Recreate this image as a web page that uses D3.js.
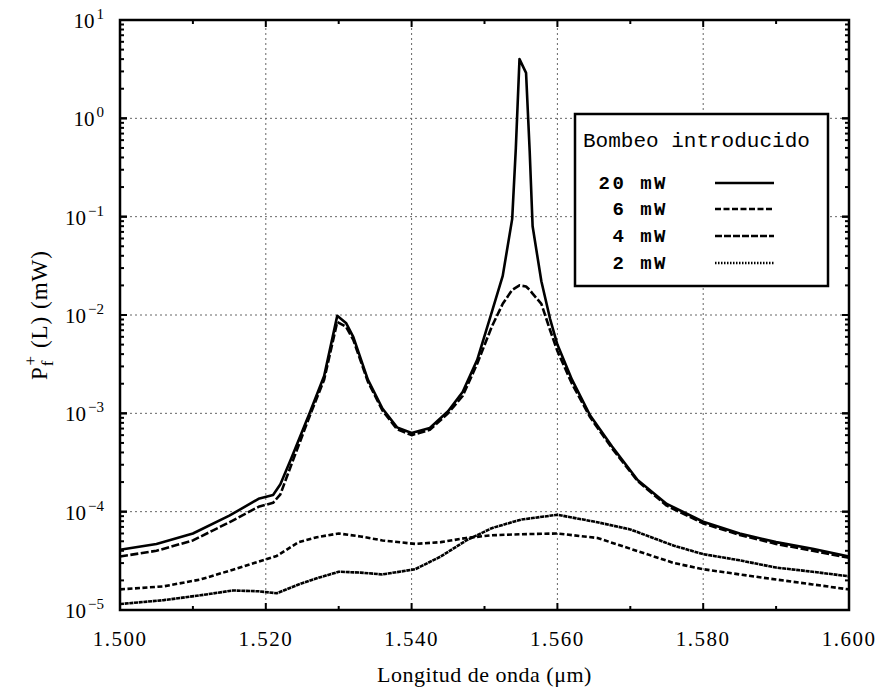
<!DOCTYPE html>
<html>
<head>
<meta charset="utf-8">
<script src="https://cdn.jsdelivr.net/npm/d3@7"></script>
<style>
  body { margin: 0; background: #fff; }
</style>
</head>
<body>
<div id="chart"></div>
<script>
/* Pf+(L) vs wavelength, four pump powers (log scale) */

// wavelength grid (um) for the two high-power curves
const lamHigh = [1.500, 1.505, 1.510, 1.515, 1.519, 1.521, 1.522, 1.5235, 1.526, 1.528,
                 1.5298, 1.531, 1.532, 1.534, 1.536, 1.538, 1.540, 1.5425, 1.545, 1.547,
                 1.549, 1.551, 1.5525, 1.5538, 1.5543, 1.5548, 1.5557, 1.5562, 1.5566, 1.5578,
                 1.559, 1.560, 1.562, 1.5645, 1.5675, 1.571, 1.575, 1.580, 1.585, 1.590,
                 1.595, 1.600];
const p20mW = [4.1e-5, 4.7e-5, 6.0e-5, 9.1e-5, 1.35e-4, 1.48e-4, 1.9e-4, 3.5e-4, 1.0e-3, 2.4e-3,
               9.8e-3, 8.3e-3, 6.0e-3, 2.2e-3, 1.12e-3, 7.2e-4, 6.3e-4, 7.1e-4, 1.05e-3, 1.65e-3,
               3.5e-3, 1.07e-2, 2.5e-2, 9.5e-2, 0.5, 4.0, 2.9, 0.46, 0.08, 0.022,
               9.1e-3, 5.0e-3, 2.2e-3, 9.5e-4, 4.6e-4, 2.1e-4, 1.2e-4, 7.9e-5, 6.0e-5, 4.9e-5,
               4.2e-5, 3.5e-5];
const p6mW = [3.5e-5, 4.0e-5, 5.1e-5, 7.8e-5, 1.12e-4, 1.23e-4, 1.5e-4, 3.0e-4, 9.3e-4, 2.2e-3,
              8.5e-3, 7.6e-3, 5.6e-3, 2.1e-3, 1.07e-3, 6.9e-4, 6.0e-4, 6.8e-4, 1.0e-3, 1.5e-3,
              3.2e-3, 7.6e-3, 1.3e-2, 1.8e-2, 1.9e-2, 2.0e-2, 1.95e-2, 1.8e-2, 1.65e-2, 1.3e-2,
              7.0e-3, 4.3e-3, 2.0e-3, 9.1e-4, 4.4e-4, 2.05e-4, 1.15e-4, 7.6e-5, 5.8e-5, 4.7e-5,
              4.0e-5, 3.4e-5];

// wavelength grid (um) for the two low-power curves
const lamLow = [1.500, 1.506, 1.511, 1.5155, 1.519, 1.5215, 1.5245, 1.527, 1.530, 1.533,
                1.536, 1.5405, 1.544, 1.5475, 1.551, 1.555, 1.560, 1.5655, 1.570, 1.576,
                1.580, 1.585, 1.590, 1.595, 1.600];
const p4mW = [1.62e-5, 1.74e-5, 2.04e-5, 2.57e-5, 3.1e-5, 3.55e-5, 4.9e-5, 5.5e-5, 6.0e-5, 5.6e-5,
              5.1e-5, 4.7e-5, 4.9e-5, 5.4e-5, 5.75e-5, 5.9e-5, 6.0e-5, 5.4e-5, 4.2e-5, 3.0e-5,
              2.6e-5, 2.3e-5, 2.04e-5, 1.82e-5, 1.62e-5];
const p2mW = [1.15e-5, 1.26e-5, 1.41e-5, 1.58e-5, 1.55e-5, 1.48e-5, 1.82e-5, 2.1e-5, 2.45e-5, 2.4e-5,
              2.3e-5, 2.6e-5, 3.5e-5, 5.1e-5, 6.8e-5, 8.3e-5, 9.3e-5, 7.8e-5, 6.6e-5, 4.5e-5,
              3.7e-5, 3.2e-5, 2.7e-5, 2.45e-5, 2.2e-5];

const seriesNames = ["20 mW", "6 mW", "4 mW", "2 mW"];
const xTicks = [1.50, 1.52, 1.54, 1.56, 1.58, 1.60];
const xMinorTicks = [1.51, 1.53, 1.55, 1.57, 1.59];
const yExponents = [-5, -4, -3, -2, -1, 0, 1];

const height = 689,
      width = 877,
      margin = ({ top: 20, right: 28, bottom: 79, left: 120 });

let svg = d3.select("#chart")
    .append("svg")
    .attr("width", width)
    .attr("height", height)
    .style("font-family", "'Liberation Serif', serif");

let x = d3.scaleLinear()
    .domain([1.5, 1.6])
    .range([margin.left, width - margin.right]);

let y = d3.scaleLog()
    .domain([1e-5, 10])
    .range([height - margin.bottom, margin.top]);

// dotted grid
let grid = svg.append("g")
    .attr("stroke", "#666")
    .attr("stroke-width", 1)
    .attr("stroke-dasharray", "2,3");

grid.selectAll(".vg")
    .data(xTicks.slice(1, -1))
    .join("line")
    .attr("x1", d => x(d)).attr("x2", d => x(d))
    .attr("y1", y(1e-5)).attr("y2", y(10));

grid.selectAll(".hg")
    .data(yExponents.slice(1, -1))
    .join("line")
    .attr("y1", d => y(Math.pow(10, d))).attr("y2", d => y(Math.pow(10, d)))
    .attr("x1", x(1.5)).attr("x2", x(1.6));

// curves
let series = [
    { name: seriesNames[0], lam: lamHigh, p: p20mW, dash: null },
    { name: seriesNames[1], lam: lamHigh, p: p6mW, dash: "8,2.5" },
    { name: seriesNames[2], lam: lamLow, p: p4mW, dash: "5,2.5" },
    { name: seriesNames[3], lam: lamLow, p: p2mW, dash: "4,0.7" }
];
let legendDash = [null, "6,2.5", "7,2", "1.5,1.5"];

let line = d3.line()
    .x(d => x(d[0]))
    .y(d => y(d[1]));

svg.append("g")
    .selectAll("path")
    .data(series)
    .join("path")
    .attr("d", s => line(s.lam.map((l, i) => [l, s.p[i]])))
    .attr("fill", "none")
    .attr("stroke", "#000")
    .attr("stroke-width", 2.6)
    .attr("stroke-linejoin", "round")
    .attr("stroke-dasharray", s => s.dash);

// ticks pointing inward on all four sides
let ticks = svg.append("g").attr("stroke", "#000").attr("stroke-width", 2);
let x0 = x(1.5), x1 = x(1.6), yb = y(1e-5), yt = y(10);

for (let t of xTicks.concat(xMinorTicks)) {
    let len = xTicks.includes(t) ? 7 : 4;
    ticks.append("line").attr("x1", x(t)).attr("x2", x(t)).attr("y1", yb).attr("y2", yb - len);
    ticks.append("line").attr("x1", x(t)).attr("x2", x(t)).attr("y1", yt).attr("y2", yt + len);
}
for (let e = -5; e <= 0; e++) {
    for (let m = 1; m <= 10; m++) {
        let v = m * Math.pow(10, e);
        let len = (m === 1 || m === 10) ? 7 : 4;
        ticks.append("line").attr("x1", x0).attr("x2", x0 + len).attr("y1", y(v)).attr("y2", y(v));
        ticks.append("line").attr("x1", x1).attr("x2", x1 - len).attr("y1", y(v)).attr("y2", y(v));
    }
}

// frame
svg.append("rect")
    .attr("x", x0).attr("y", yt)
    .attr("width", x1 - x0).attr("height", yb - yt)
    .attr("fill", "none")
    .attr("stroke", "#000")
    .attr("stroke-width", 2.5);

// x tick labels
svg.append("g")
    .selectAll("text")
    .data(xTicks)
    .join("text")
    .attr("x", d => x(d))
    .attr("y", yb + 36)
    .attr("text-anchor", "middle")
    .style("font-size", "21px")
    .style("letter-spacing", "1.5px")
    .text(d => d3.format(".3f")(d));

// y tick labels, 10^n
let yl = svg.append("g")
    .selectAll("text")
    .data(yExponents)
    .join("text")
    .attr("x", 104)
    .attr("y", d => y(Math.pow(10, d)) + 8)
    .attr("text-anchor", "end")
    .style("font-size", "21px");
yl.append("tspan").text("10");
yl.append("tspan")
    .attr("dy", -9)
    .attr("dx", 2)
    .style("font-size", "15px")
    .text(d => d < 0 ? "\u2212" + (-d) : d);

// axis titles
svg.append("text")
    .attr("x", (x0 + x1) / 2)
    .attr("y", 682)
    .attr("text-anchor", "middle")
    .style("font-size", "22px")
    .style("letter-spacing", "0.5px")
    .text("Longitud de onda (\u03bcm)");

let yTitle = svg.append("text")
    .attr("transform", `translate(47,${(yt + yb) / 2}) rotate(-90)`)
    .attr("text-anchor", "middle")
    .style("font-size", "23px")
    .style("letter-spacing", "1px");
yTitle.append("tspan").text("P");
yTitle.append("tspan").attr("dy", 6).style("font-size", "17px").text("f");
yTitle.append("tspan").attr("dx", -6).attr("dy", -17).style("font-size", "17px").text("+");
yTitle.append("tspan").attr("dy", 11).text(" (L) (mW)");

// legend
let lg = svg.append("g");
lg.append("rect")
    .attr("x", 575).attr("y", 114)
    .attr("width", 253).attr("height", 172)
    .attr("fill", "#fff")
    .attr("stroke", "#000")
    .attr("stroke-width", 2.5);

lg.append("text")
    .attr("x", 583)
    .attr("y", 147)
    .style("font-family", "'Liberation Mono', monospace")
    .style("font-size", "21px")
    .text("Bombeo introducido");

let entryY = [183, 209, 236, 263];
let entry = lg.selectAll(".entry")
    .data(series)
    .join("g")
    .attr("class", "entry");

entry.append("text")
    .attr("x", 668)
    .attr("y", (d, i) => entryY[i] + 6)
    .attr("text-anchor", "end")
    .style("font-family", "'Liberation Mono', monospace")
    .style("font-weight", "bold")
    .style("font-size", "19px")
    .style("letter-spacing", "2.5px")
    .text(d => d.name);

entry.append("line")
    .attr("x1", 715).attr("x2", 774)
    .attr("y1", (d, i) => entryY[i]).attr("y2", (d, i) => entryY[i])
    .attr("stroke", "#000")
    .attr("stroke-width", 2.4)
    .attr("stroke-dasharray", (d, i) => legendDash[i]);
</script>
</body>
</html>
